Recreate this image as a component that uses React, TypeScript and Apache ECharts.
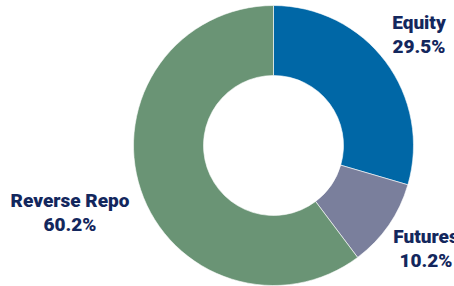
import React, { useEffect, useRef } from "react";
import * as echarts from "echarts";

const categories = ["Equity", "Futures", "Reverse Repo"];
const values = [29.5, 10.2, 60.2];
const colors = ["#0067A6", "#7A7F9C", "#6A9475"];

const labelPos: Record<number, [number, number]> = {
  0: [419, 34],
  1: [426, 248],
  2: [70, 212],
};

export default function App() {
  const ref = useRef<HTMLDivElement>(null);
  useEffect(() => {
    document.body.style.margin = "0";
    const chart = echarts.init(ref.current!, null, { renderer: "svg" });
    chart.setOption({
      animation: false,
      series: [
        {
          type: "pie",
          center: [273.5, 145.5],
          radius: [70, 140],
          startAngle: 90,
          clockwise: true,
          avoidLabelOverlap: false,
          itemStyle: { borderColor: "#ffffff", borderWidth: 0.6 },
          label: {
            show: true,
            position: "outside",
            formatter: (p: any) => `${p.name}\n${p.value.toFixed(1)}%`,
            color: "#13275D",
            fontFamily: "Roboto",
            fontWeight: 900,
            fontSize: 19,
            lineHeight: 24,
            align: "center",
          },
          labelLine: { show: false },
          labelLayout: (params: any) => {
            const pos = labelPos[params.dataIndex];
            return { x: pos[0], y: pos[1], align: "center", verticalAlign: "middle" };
          },
          data: categories.map((c, i) => ({
            name: c,
            value: values[i],
            itemStyle: { color: colors[i] },
          })),
        },
      ],
    });
    return () => chart.dispose();
  }, []);
  return <div ref={ref} style={{ width: 454, height: 286 }} />;
}
